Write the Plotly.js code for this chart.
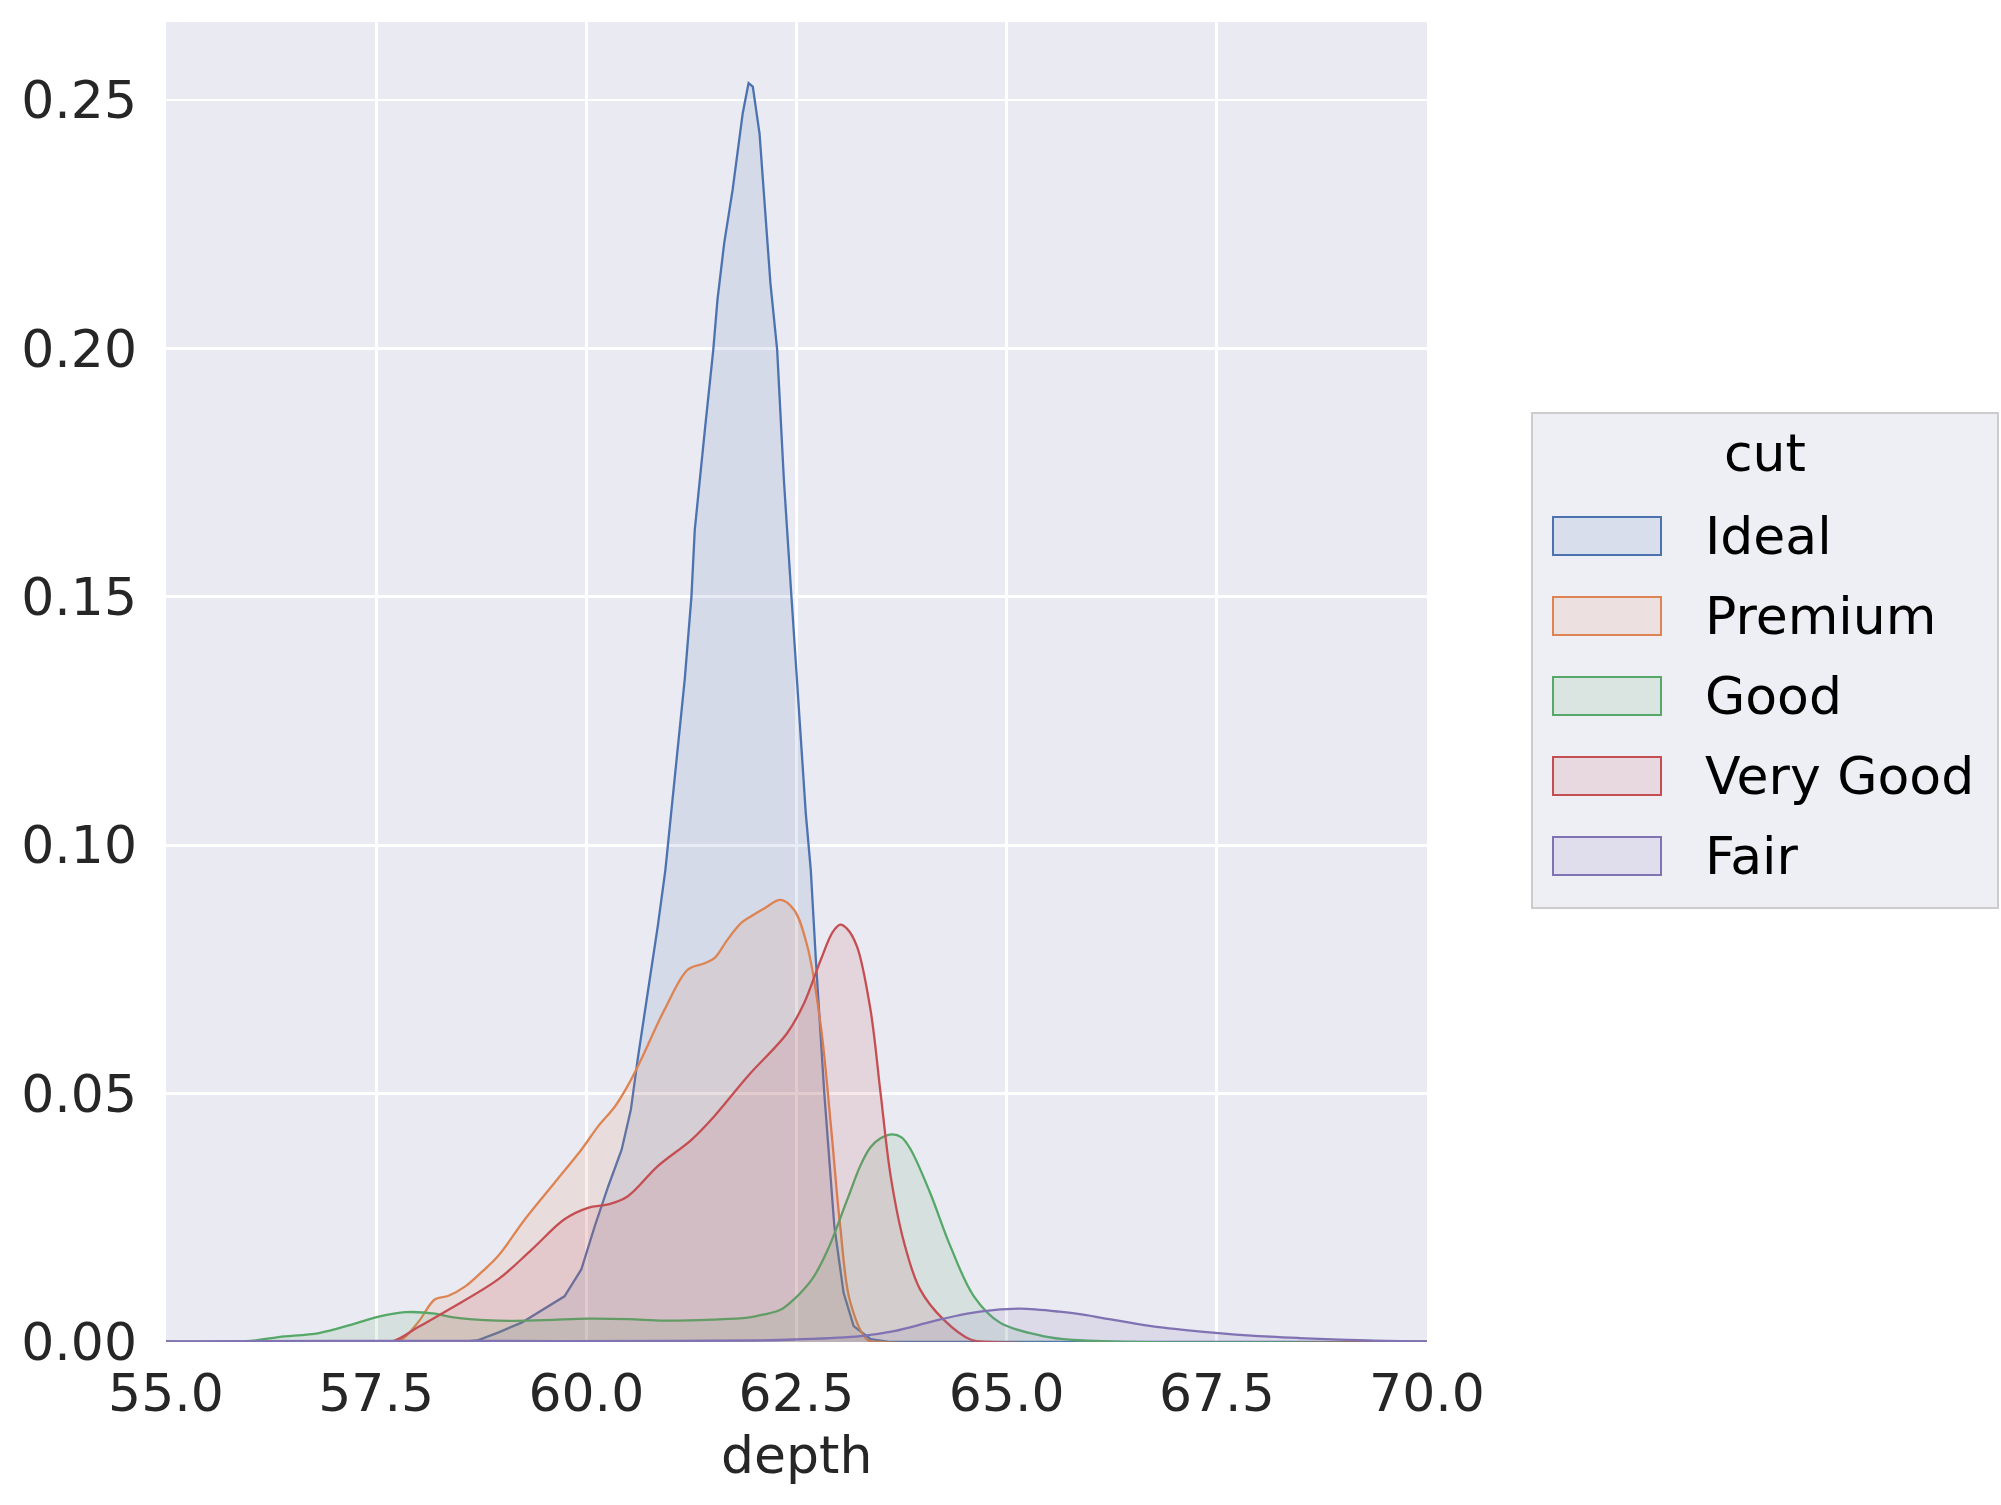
<!DOCTYPE html>
<html>
<head>
<meta charset="utf-8">
<script src="https://cdn.plot.ly/plotly-3.0.1.min.js"></script>
<style>html,body{margin:0;padding:0;background:#fff;}</style>
</head>
<body>
<div id="chart" style="width:2001px;height:1505px;"></div>
<script>
// ---- data ----
const categories = ["Ideal", "Premium", "Good", "Very Good", "Fair"];
const colors = ["#4C72B0", "#DD8452", "#55A868", "#C44E52", "#8172B3"];

const idealX = [55, 58.5, 58.7, 58.95, 59.23, 59.55, 59.74, 59.94, 60.1, 60.26, 60.42, 60.53, 60.61, 60.73, 60.85, 60.94, 61.05, 61.17, 61.25, 61.29, 61.41, 61.47, 61.51, 61.56, 61.64, 61.74, 61.86, 61.93, 61.98, 62.06, 62.12, 62.19, 62.27, 62.35, 62.44, 62.53, 62.61, 62.67, 62.73, 62.83, 62.95, 63.06, 63.18, 63.38, 63.6, 70];
const idealY = [0, 0, 0.0003, 0.0019, 0.0039, 0.0072, 0.0092, 0.0146, 0.0233, 0.0313, 0.0387, 0.0468, 0.0568, 0.0703, 0.0837, 0.095, 0.1132, 0.1333, 0.150, 0.1635, 0.1836, 0.1937, 0.1997, 0.2098, 0.2212, 0.2319, 0.2473, 0.2534, 0.2527, 0.2433, 0.2299, 0.2131, 0.1997, 0.1735, 0.150, 0.1266, 0.1065, 0.095, 0.077, 0.0502, 0.0233, 0.0099, 0.0032, 0.0006, 0, 0];

const premiumX = [55, 57.6, 57.8, 58.0, 58.2, 58.36, 58.56, 58.75, 58.95, 59.27, 59.62, 59.94, 60.14, 60.34, 60.49, 60.65, 60.93, 61.21, 61.4, 61.52, 61.68, 61.84, 61.96, 62.12, 62.31, 62.47, 62.63, 62.79, 62.91, 63.02, 63.14, 63.34, 63.5, 70];
const premiumY = [0, 0, 0.0005, 0.004, 0.0086, 0.0093, 0.0112, 0.014, 0.0173, 0.0247, 0.032, 0.0387, 0.0434, 0.0474, 0.0515, 0.0568, 0.0669, 0.075, 0.0762, 0.0772, 0.081, 0.0843, 0.0857, 0.0873, 0.089, 0.087, 0.0796, 0.0635, 0.0434, 0.0233, 0.008, 0.0005, 0, 0];

const goodX = [55, 56.0, 56.34, 56.82, 57.21, 57.53, 57.85, 58.2, 58.4, 58.95, 59.5, 60.02, 60.5, 60.93, 61.5, 61.92, 62.1, 62.31, 62.47, 62.55, 62.7, 62.87, 63.1, 63.26, 63.38, 63.5, 63.64, 63.75, 63.86, 64.09, 64.33, 64.61, 64.92, 65.43, 65.8, 66.5, 70];
const goodY = [0, 0.0002, 0.001, 0.0018, 0.0035, 0.0051, 0.006, 0.0057, 0.005, 0.0043, 0.0044, 0.0047, 0.0046, 0.0043, 0.0045, 0.0049, 0.0055, 0.0065, 0.0086, 0.0099, 0.013, 0.0185, 0.0285, 0.0355, 0.0392, 0.041, 0.0418, 0.0412, 0.0387, 0.030, 0.0193, 0.0092, 0.0039, 0.0012, 0.0004, 0, 0];

const veryGoodX = [55, 57.55, 57.72, 58.0, 58.36, 58.95, 59.35, 59.74, 60.02, 60.26, 60.49, 60.85, 61.25, 61.52, 61.92, 62.39, 62.59, 62.79, 62.93, 63.02, 63.1, 63.22, 63.38, 63.5, 63.62, 63.78, 63.97, 64.25, 64.57, 64.8, 70];
const veryGoodY = [0, 0, 0.0003, 0.003, 0.0065, 0.0126, 0.0186, 0.0247, 0.027, 0.0277, 0.0293, 0.0354, 0.0407, 0.0454, 0.0535, 0.0622, 0.0682, 0.077, 0.0825, 0.084, 0.0832, 0.0796, 0.0669, 0.0501, 0.0334, 0.02, 0.0106, 0.0045, 0.0005, 0, 0];

const fairX = [55, 57, 59, 61, 62.0, 62.47, 63.26, 63.66, 64.13, 64.53, 64.84, 65.16, 65.63, 65.91, 66.22, 66.5, 66.81, 67.45, 68.0, 68.48, 69.3, 70];
const fairY = [0.0001, 0.0002, 0.0002, 0.0002, 0.0003, 0.0005, 0.0012, 0.0022, 0.0042, 0.0057, 0.0064, 0.0067, 0.0061, 0.0055, 0.0046, 0.0038, 0.003, 0.0019, 0.0012, 0.0008, 0.0003, 0.0001];

const xTickVals = [55, 57.5, 60, 62.5, 65, 67.5, 70];
const yTickVals = [0, 0.05, 0.10, 0.15, 0.20, 0.25];
const xTitle = "depth";
const legendTitle = "cut";

// ---- build ----
const seriesX = [idealX, premiumX, goodX, veryGoodX, fairX];
const seriesY = [idealY, premiumY, goodY, veryGoodY, fairY];

function rgba(hex, a) {
  const r = parseInt(hex.slice(1,3),16), g = parseInt(hex.slice(3,5),16), b = parseInt(hex.slice(5,7),16);
  return `rgba(${r},${g},${b},${a})`;
}

const traces = categories.map((c, i) => ({
  type: 'scatter', mode: 'lines', name: c,
  x: seriesX[i], y: seriesY[i],
  fill: 'tozeroy', fillcolor: rgba(colors[i], 0.13),
  line: {color: colors[i], width: 2.3, shape: i === 0 ? 'linear' : 'spline', smoothing: 1.0},
  showlegend: false, hoverinfo: 'skip'
}));

// layout geometry (pixels)
const W = 2001, H = 1505;
const mL = 166, mR = 574, mT = 22, mB = 163;
const pw = W - mL - mR, ph = H - mT - mB;
const px2x = p => (p - mL) / pw;
const px2y = p => (H - mB - p) / ph;

const FONT = 'DejaVu Sans, sans-serif';
const shapes = [];
const annotations = [];

// x-axis title
annotations.push({xref: 'paper', yref: 'paper', x: 0.5, y: px2y(1455),
  text: xTitle, showarrow: false, xanchor: 'center', yanchor: 'middle',
  font: {family: FONT, size: 52, color: '#262626'}});

// custom legend (matplotlib-style box with patches)
shapes.push({type: 'rect', xref: 'paper', yref: 'paper',
  x0: px2x(1532), x1: px2x(1998), y0: px2y(908), y1: px2y(413),
  fillcolor: 'rgba(238,238,245,1)', line: {color: '#CCCCCC', width: 2}, layer: 'above'});
annotations.push({xref: 'paper', yref: 'paper', x: px2x(1765), y: px2y(453),
  text: legendTitle, showarrow: false, xanchor: 'center', yanchor: 'middle',
  font: {family: FONT, size: 52, color: '#000000'}});
categories.forEach((c, i) => {
  const cy = 536 + i * 80;
  shapes.push({type: 'rect', xref: 'paper', yref: 'paper',
    x0: px2x(1553), x1: px2x(1661), y0: px2y(cy + 19), y1: px2y(cy - 19),
    fillcolor: rgba(colors[i], 0.13), line: {color: colors[i], width: 2}, layer: 'above'});
  annotations.push({xref: 'paper', yref: 'paper', x: px2x(1703), y: px2y(cy),
    text: c, showarrow: false, xanchor: 'left', yanchor: 'middle',
    font: {family: FONT, size: 52, color: '#000000'}});
});

const layout = {
  width: W, height: H,
  margin: {l: mL, r: mR, t: mT, b: mB, pad: 0},
  paper_bgcolor: '#FFFFFF', plot_bgcolor: '#EAEAF2',
  font: {family: FONT, size: 52, color: '#262626'},
  showlegend: false,
  xaxis: {
    range: [55, 70], tickvals: xTickVals, tickformat: '.1f',
    showgrid: true, gridcolor: '#FFFFFF', gridwidth: 2.7,
    zeroline: false, showline: false, ticks: '', ticklabelstandoff: 16,
    tickfont: {family: FONT, size: 52, color: '#262626'}
  },
  yaxis: {
    range: [0, 0.2657], tickvals: yTickVals, tickformat: '.2f',
    showgrid: true, gridcolor: '#FFFFFF', gridwidth: 2.7,
    zeroline: false, showline: false, ticks: '', ticklabelstandoff: 28,
    tickfont: {family: FONT, size: 52, color: '#262626'}
  },
  shapes: shapes,
  annotations: annotations
};

Plotly.newPlot('chart', traces, layout, {displayModeBar: false, staticPlot: true});
</script>
</body>
</html>
